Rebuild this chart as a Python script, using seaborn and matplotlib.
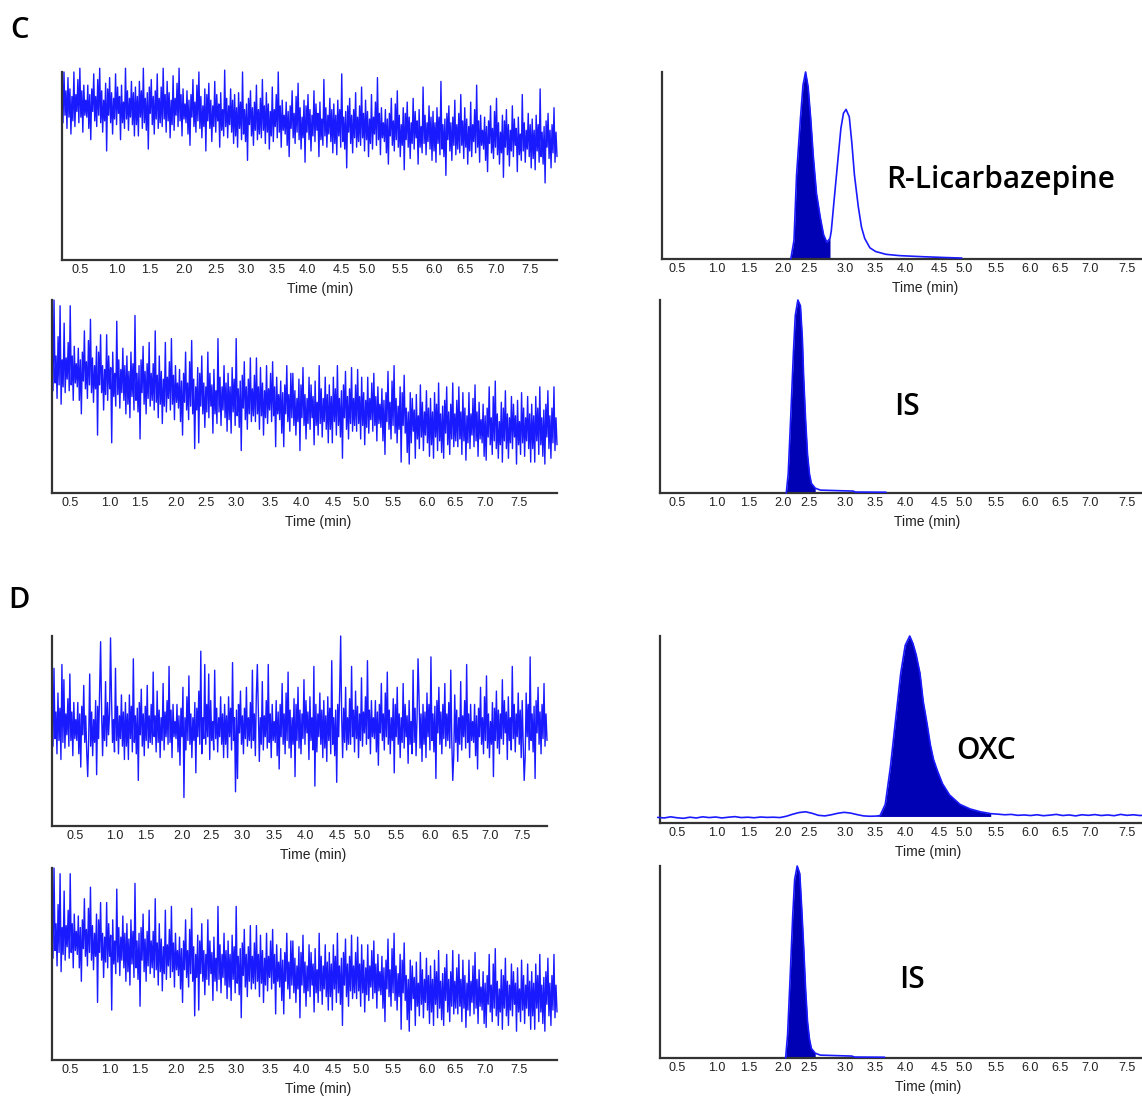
import numpy as np
import pandas as pd
import matplotlib
matplotlib.use("Agg")
import matplotlib.pyplot as plt
import seaborn as sns

sns.set_style("white")
plt.rcParams['font.family'] = ['Liberation Sans', 'DejaVu Sans']

# ---------------- data ----------------
tick_labels = ["0.5", "1.0", "1.5", "2.0", "2.5", "3.0", "3.5", "4.0",
               "4.5", "5.0", "5.5", "6.0", "6.5", "7.0", "7.5"]

# C, blank (top-left): intensity in % of axis height
noise_c_top = [
    94, 73, 100, 77, 90, 70, 97, 76, 91, 67, 87, 74, 100, 71, 88, 79, 96, 73, 102, 76, 90, 68, 93, 77, 85,
    76, 93, 70, 88, 64, 91, 79, 99, 74, 87, 71, 96, 77, 102, 73, 90, 68, 85, 74, 94, 58, 91, 77, 97, 73,
    89, 67, 86, 75, 99, 72, 92, 78, 87, 64, 93, 73, 84, 70, 102, 75, 90, 69, 86, 76, 95, 72, 89, 66, 92,
    72, 87, 66, 95, 76, 90, 70, 102, 73, 86, 69, 89, 59, 92, 78, 96, 72, 87, 67, 90, 75, 99, 70, 86, 73,
    92, 71, 102, 75, 88, 68, 95, 74, 89, 65, 85, 72, 98, 69, 86, 77, 94, 71, 102, 74, 88, 66, 91, 75, 83,
    73, 90, 67, 85, 61, 88, 76, 96, 71, 84, 68, 93, 74, 100, 70, 87, 65, 82, 71, 91, 58, 88, 74, 94, 70,
    85, 63, 82, 71, 95, 68, 88, 74, 83, 60, 89, 69, 80, 66, 101, 71, 86, 65, 82, 72, 91, 68, 85, 62, 88,
    66, 81, 60, 89, 70, 84, 64, 100, 67, 80, 63, 83, 53, 86, 72, 90, 66, 81, 61, 84, 69, 93, 64, 80, 67,
    86, 65, 96, 69, 82, 62, 89, 68, 83, 59, 79, 66, 92, 63, 80, 71, 88, 65, 100, 68, 82, 60, 85, 69, 77,
    67, 84, 61, 79, 55, 82, 70, 90, 65, 78, 62, 87, 68, 94, 64, 81, 59, 76, 65, 85, 52, 82, 68, 88, 64,
    80, 58, 77, 66, 90, 63, 83, 69, 78, 55, 84, 64, 75, 61, 96, 66, 81, 60, 77, 67, 86, 63, 80, 57, 83,
    62, 77, 56, 85, 66, 80, 60, 99, 63, 76, 59, 79, 49, 82, 68, 86, 62, 77, 57, 80, 65, 89, 60, 76, 63,
    82, 61, 92, 65, 78, 58, 85, 64, 79, 55, 75, 62, 88, 59, 76, 67, 84, 61, 97, 64, 78, 56, 81, 65, 73,
    63, 80, 57, 75, 51, 78, 66, 86, 61, 74, 58, 83, 64, 90, 60, 77, 55, 72, 61, 81, 48, 78, 64, 84, 60,
    76, 54, 73, 62, 86, 59, 79, 65, 74, 51, 80, 60, 71, 57, 92, 62, 77, 56, 73, 63, 82, 59, 76, 53, 79,
    58, 73, 52, 81, 62, 76, 56, 95, 59, 72, 55, 75, 45, 78, 64, 82, 58, 73, 53, 76, 61, 85, 56, 72, 59,
    78, 57, 88, 61, 74, 54, 81, 60, 75, 51, 71, 58, 84, 55, 72, 63, 80, 57, 93, 60, 74, 52, 77, 61, 69,
    59, 76, 53, 71, 47, 74, 62, 82, 57, 70, 54, 79, 60, 86, 56, 73, 51, 68, 57, 77, 44, 74, 60, 80, 56,
    72, 50, 69, 58, 82, 55, 75, 61, 70, 47, 76, 56, 67, 53, 88, 58, 73, 52, 69, 59, 78, 55, 72, 49, 75,
    54, 69, 48, 77, 58, 72, 52, 91, 55, 68, 51, 71, 41, 74, 60, 78, 54, 69, 49, 72, 57, 81, 52, 68, 55]

# C and D, IS channel of blank (bottom-left panels)
noise_is_blank = [
    77, 53, 100, 57, 71, 49, 81, 56, 97, 46, 69, 55, 88, 52, 70, 59, 78, 53, 97, 56, 71, 48, 76, 57, 67,
    55, 75, 48, 69, 41, 73, 58, 84, 54, 68, 49, 79, 56, 90, 52, 70, 47, 66, 54, 76, 30, 73, 56, 82, 52,
    66, 43, 64, 51, 82, 48, 71, 54, 65, 26, 73, 50, 62, 45, 89, 51, 69, 44, 64, 52, 75, 48, 66, 41, 71,
    46, 63, 39, 73, 50, 67, 43, 92, 48, 62, 42, 66, 28, 69, 52, 76, 46, 63, 41, 67, 49, 78, 45, 62, 48,
    67, 43, 84, 47, 61, 39, 71, 46, 63, 36, 59, 45, 78, 42, 60, 49, 68, 43, 80, 46, 61, 38, 66, 47, 57,
    44, 64, 37, 58, 30, 62, 47, 73, 43, 57, 38, 68, 45, 79, 41, 59, 23, 55, 43, 65, 26, 62, 45, 71, 41,
    57, 34, 55, 42, 73, 39, 62, 45, 56, 31, 64, 41, 53, 36, 80, 42, 60, 35, 55, 43, 66, 39, 57, 32, 62,
    38, 55, 31, 65, 42, 59, 35, 80, 40, 54, 34, 58, 22, 61, 44, 68, 38, 55, 33, 59, 41, 70, 37, 54, 40,
    61, 37, 70, 41, 55, 33, 65, 40, 57, 30, 53, 39, 66, 36, 54, 43, 62, 37, 68, 40, 55, 24, 60, 41, 51,
    38, 58, 31, 52, 24, 56, 41, 66, 37, 51, 32, 62, 39, 62, 35, 53, 30, 49, 37, 59, 22, 56, 39, 65, 35,
    51, 28, 49, 36, 60, 33, 56, 39, 50, 25, 58, 35, 47, 30, 66, 36, 54, 29, 49, 37, 60, 33, 51, 26, 56,
    33, 50, 26, 60, 37, 54, 30, 66, 35, 49, 29, 53, 18, 56, 39, 63, 33, 50, 28, 54, 36, 65, 32, 49, 35,
    56, 32, 64, 36, 50, 28, 60, 35, 52, 25, 48, 34, 60, 31, 49, 38, 57, 32, 62, 35, 50, 27, 55, 36, 46,
    34, 54, 27, 48, 20, 52, 37, 63, 33, 47, 28, 58, 35, 66, 31, 49, 26, 45, 33, 55, 16, 52, 35, 61, 31,
    44, 21, 42, 15, 52, 26, 49, 32, 43, 18, 51, 28, 40, 23, 56, 29, 47, 22, 42, 30, 53, 26, 44, 19, 49,
    25, 42, 18, 52, 29, 46, 22, 57, 27, 41, 21, 45, 18, 48, 31, 55, 25, 42, 20, 46, 28, 57, 24, 41, 27,
    48, 24, 55, 28, 42, 20, 52, 27, 44, 17, 40, 26, 52, 23, 41, 30, 49, 24, 56, 27, 42, 19, 47, 28, 38,
    26, 46, 19, 40, 17, 44, 29, 55, 25, 39, 20, 50, 27, 58, 23, 41, 18, 37, 25, 47, 16, 44, 27, 53, 23,
    41, 18, 39, 26, 50, 23, 46, 29, 40, 15, 48, 25, 37, 20, 52, 26, 44, 19, 39, 27, 50, 23, 41, 16, 46,
    23, 40, 16, 50, 27, 44, 20, 55, 25, 39, 19, 43, 15, 46, 29, 53, 23, 40, 18, 44, 26, 55, 22, 39, 25]

# D, blank (top-left)
noise_d_top = [
    66, 42, 83, 46, 60, 38, 70, 45, 62, 35, 85, 44, 77, 41, 59, 48, 67, 42, 80, 45, 60, 37, 65, 46, 56,
    45, 65, 38, 59, 31, 63, 48, 74, 44, 58, 39, 26, 46, 80, 42, 60, 37, 56, 44, 66, 27, 63, 46, 72, 97,
    60, 37, 58, 45, 76, 42, 65, 48, 59, 99, 67, 44, 56, 39, 83, 45, 63, 38, 58, 46, 69, 42, 60, 35, 65,
    42, 59, 35, 69, 46, 63, 39, 88, 44, 58, 38, 62, 24, 65, 48, 72, 42, 59, 37, 63, 45, 74, 41, 58, 44,
    64, 43, 81, 47, 58, 39, 71, 44, 61, 36, 57, 45, 75, 40, 60, 47, 66, 43, 84, 44, 61, 36, 64, 47, 55,
    46, 64, 39, 58, 32, 62, 47, 73, 15, 57, 40, 68, 45, 79, 43, 59, 36, 57, 45, 65, 28, 62, 47, 71, 43,
    92, 38, 57, 46, 85, 43, 64, 47, 80, 35, 66, 45, 55, 40, 82, 46, 62, 39, 57, 47, 68, 43, 59, 36, 64,
    43, 58, 36, 68, 47, 62, 40, 86, 45, 57, 18, 61, 25, 64, 49, 71, 43, 58, 38, 62, 46, 73, 42, 57, 45,
    65, 41, 82, 45, 59, 37, 69, 85, 61, 34, 57, 43, 76, 40, 58, 47, 66, 41, 85, 44, 59, 36, 64, 45, 55,
    44, 66, 37, 60, 30, 64, 47, 75, 43, 59, 38, 70, 45, 81, 41, 61, 36, 57, 43, 67, 26, 64, 45, 73, 41,
    61, 38, 59, 46, 77, 43, 66, 49, 60, 35, 68, 45, 57, 40, 84, 21, 64, 39, 59, 47, 70, 43, 61, 36, 66,
    41, 58, 34, 68, 45, 62, 38, 87, 43, 57, 37, 61, 23, 64, 47, 71, 100, 58, 36, 62, 44, 73, 40, 57, 43,
    67, 43, 84, 47, 61, 39, 71, 46, 63, 36, 59, 45, 78, 42, 60, 49, 68, 43, 87, 46, 61, 38, 66, 47, 57,
    46, 66, 39, 60, 32, 64, 49, 75, 45, 59, 40, 70, 47, 81, 43, 61, 38, 57, 45, 67, 28, 64, 47, 73, 43,
    59, 36, 57, 44, 75, 41, 64, 47, 58, 33, 66, 43, 55, 38, 82, 44, 62, 37, 57, 88, 68, 41, 59, 34, 64,
    43, 60, 36, 70, 47, 64, 40, 89, 45, 59, 39, 63, 25, 66, 49, 73, 43, 60, 38, 64, 46, 75, 42, 59, 45,
    65, 41, 82, 45, 24, 37, 69, 44, 61, 34, 57, 43, 76, 40, 58, 47, 66, 41, 85, 44, 59, 36, 64, 45, 55,
    44, 64, 37, 58, 30, 62, 47, 73, 43, 57, 38, 68, 45, 79, 41, 59, 36, 55, 43, 65, 26, 62, 45, 71, 41,
    61, 38, 59, 46, 77, 43, 66, 49, 60, 35, 68, 45, 57, 40, 84, 46, 64, 39, 59, 47, 70, 43, 61, 36, 66,
    43, 24, 36, 70, 47, 64, 40, 89, 45, 59, 39, 63, 25, 66, 49, 73, 43, 60, 38, 64, 46, 75, 42, 59, 45]

# C, R-Licarbazepine channel (relative intensity)
rlic_time = [2.27, 2.32, 2.36, 2.42, 2.46, 2.50, 2.54, 2.58, 2.62, 2.67, 2.73,
             2.78, 2.83, 2.88, 2.90, 2.94, 3.00, 3.05, 3.09, 3.13, 3.18, 3.22,
             3.26, 3.32, 3.37, 3.42, 3.50, 3.59, 3.75, 3.96, 4.34, 4.66, 4.93]
rlic_int = [0.0, 0.10, 0.45, 0.75, 0.93, 1.0, 0.92, 0.75, 0.55, 0.35, 0.22,
            0.13, 0.09, 0.11, 0.15, 0.30, 0.52, 0.70, 0.78, 0.80, 0.76, 0.62,
            0.45, 0.28, 0.17, 0.11, 0.06, 0.04, 0.025, 0.018, 0.012, 0.008, 0.005]
rlic_fill_end = 2.88

# C, IS channel
is_c_time = [2.20, 2.23, 2.27, 2.31, 2.34, 2.38, 2.42, 2.45, 2.47, 2.50, 2.53,
             2.56, 2.59, 2.65, 2.73, 3.02, 3.24, 3.27, 3.75]
is_c_int = [0.0, 0.10, 0.40, 0.72, 0.92, 1.0, 0.97, 0.80, 0.60, 0.38, 0.20,
            0.10, 0.05, 0.025, 0.015, 0.012, 0.010, 0.005, 0.004]
is_fill_end = 2.65

# D, OXC channel
oxc_time = [0.2, 0.3, 0.4, 0.5, 0.6, 0.7, 0.8, 0.9, 1.0, 1.1, 1.2, 1.3, 1.4,
            1.5, 1.6, 1.7, 1.8, 1.9, 2.0, 2.1, 2.2, 2.3, 2.4, 2.5, 2.6, 2.7,
            2.8, 2.9, 3.0, 3.1, 3.2, 3.3, 3.4, 3.5, 3.6,
            3.66, 3.74, 3.82, 3.90, 3.98, 4.05, 4.12, 4.17, 4.22, 4.28, 4.33,
            4.39, 4.44, 4.49, 4.55, 4.63, 4.74, 4.90, 5.06, 5.22, 5.38,
            5.5, 5.6, 5.7, 5.8, 5.9, 6.0, 6.1, 6.2, 6.3, 6.4, 6.5, 6.6, 6.7,
            6.8, 6.9, 7.0, 7.1, 7.2, 7.3, 7.4, 7.5, 7.6, 7.7, 7.8, 7.9]
oxc_int = [0.030, 0.027, 0.033, 0.028, 0.025, 0.031, 0.027, 0.033, 0.029,
           0.032, 0.027, 0.031, 0.034, 0.029, 0.031, 0.028, 0.032, 0.030,
           0.031, 0.029, 0.036, 0.047, 0.056, 0.060, 0.052, 0.041, 0.038,
           0.044, 0.052, 0.057, 0.053, 0.045, 0.038, 0.036, 0.037,
           0.04, 0.10, 0.30, 0.55, 0.80, 0.95, 1.0, 0.96, 0.90, 0.80, 0.65,
           0.53, 0.42, 0.34, 0.28, 0.21, 0.15, 0.10, 0.075, 0.06, 0.05,
           0.047, 0.044, 0.046, 0.041, 0.043, 0.040, 0.044, 0.039, 0.042,
           0.046, 0.040, 0.043, 0.038, 0.044, 0.041, 0.045, 0.040, 0.043,
           0.039, 0.046, 0.041, 0.044, 0.040, 0.043, 0.041]
oxc_fill_start, oxc_fill_end, oxc_fill_base = 3.60, 5.38, 0.035

# D, IS channel
is_d_time = [2.19, 2.22, 2.26, 2.30, 2.33, 2.37, 2.41, 2.44, 2.47, 2.50, 2.53,
             2.56, 2.59, 2.65, 2.73, 3.02, 3.22, 3.26, 3.73]
is_d_int = [0.0, 0.12, 0.42, 0.74, 0.93, 1.0, 0.96, 0.78, 0.58, 0.36, 0.19,
            0.10, 0.05, 0.025, 0.015, 0.012, 0.010, 0.005, 0.004]

# ---------------- layout ----------------
W, H = 1142, 1104
fig = plt.figure(figsize=(W / 100, H / 100), dpi=100)

LINE = "#1a1aff"
FILL = "#0000b4"
SPINE = "#333333"
TXT = "#222222"


def make_axes(left, right, top, bottom, label_px, xlabel_px, ylab_dist, ylim):
    ax = fig.add_axes([left / W, 1 - bottom / H, (right - left) / W, (bottom - top) / H])
    p05, p75 = label_px[0], label_px[-1]
    to_t = lambda p: 0.5 + (p - p05) / (p75 - p05) * 7.0
    t0, t1 = to_t(left), to_t(right)
    ax.set_xlim(t0, t1)
    ax.set_ylim(*ylim)
    ax.set_xticks([to_t(p) for p in label_px])
    ax.set_xticklabels(tick_labels)
    ax.set_yticks([])
    ax.tick_params(axis="x", length=0, pad=3, labelsize=9, labelcolor=TXT)
    for s in ["top", "right"]:
        ax.spines[s].set_visible(False)
    for s in ["left", "bottom"]:
        ax.spines[s].set_color(SPINE)
        ax.spines[s].set_linewidth(1.6)
    ax.grid(False)
    geom = dict(left=left, right=right, xlabel_px=xlabel_px, ylab_dist=ylab_dist)
    return ax, t0, t1, geom


def finish_labels(ax, geom):
    w = geom["right"] - geom["left"]
    ax.set_xlabel("Time (min)", fontsize=10, color=TXT)
    ax.set_ylabel("intensity", fontsize=9.5, color=TXT)
    ax.xaxis.set_label_coords((geom["xlabel_px"] - geom["left"]) / w, -0.115)
    ax.yaxis.set_label_coords(-(geom["ylab_dist"] - 5) / w, 0.5)


def noise_panel(ax, t0, t1, values, geom):
    t = np.linspace(t0, t1, len(values))
    df = pd.DataFrame({"time": t, "intensity": values})
    sns.lineplot(data=df, x="time", y="intensity", ax=ax, color=LINE,
                 lw=1.0, estimator=None, sort=False, clip_on=False)
    finish_labels(ax, geom)


def peak_panel(ax, times, ints, fill_from, fill_to, geom, base=0.0):
    df = pd.DataFrame({"time": times, "intensity": ints})
    sel = df[(df.time >= fill_from) & (df.time <= fill_to)]
    ax.fill_between(sel.time, base, sel.intensity, color=FILL, lw=0, zorder=2)
    sns.lineplot(data=df, x="time", y="intensity", ax=ax, color=LINE,
                 lw=1.2, estimator=None, sort=False, clip_on=False, zorder=3)
    finish_labels(ax, geom)


left_lbl_a = [80, 117, 150, 184, 216, 246, 277, 307, 341, 367, 400, 434, 465, 496, 530]
left_lbl_b = [70, 110, 140, 176, 206, 236, 270, 301, 333, 361, 393, 427, 455, 485, 519]
left_lbl_c = [75, 115, 146, 182, 211, 242, 274, 305, 337, 362, 396, 430, 460, 490, 522]
right_lbl = [677, 717, 749, 783, 809, 845, 875, 905, 939, 964, 996, 1030, 1060, 1090, 1127]

# C panels
ax, t0, t1, g = make_axes(62, 557, 72, 260, left_lbl_a, 320, 19, (0, 100))
noise_panel(ax, t0, t1, noise_c_top, g)

ax, t0, t1, g = make_axes(52, 557, 300, 493, left_lbl_b, 318, 24, (0, 100))
noise_panel(ax, t0, t1, noise_is_blank, g)

ax, t0, t1, g = make_axes(662, 1152, 72, 259, right_lbl, 925, 25, (0, 1.0))
peak_panel(ax, rlic_time, rlic_int, 0, rlic_fill_end, g)

ax, t0, t1, g = make_axes(660, 1152, 300, 493, right_lbl, 927, 23, (0, 1.0))
peak_panel(ax, is_c_time, is_c_int, 0, is_fill_end, g)

# D panels
ax, t0, t1, g = make_axes(52, 547, 636, 826, left_lbl_c, 313, 19, (0, 100))
noise_panel(ax, t0, t1, noise_d_top, g)

ax, t0, t1, g = make_axes(52, 557, 868, 1060, left_lbl_b, 318, 19, (0, 100))
noise_panel(ax, t0, t1, noise_is_blank, g)

ax, t0, t1, g = make_axes(660, 1152, 636, 823, right_lbl, 928, 17, (0, 1.0))
peak_panel(ax, oxc_time, oxc_int, oxc_fill_start, oxc_fill_end, g, base=oxc_fill_base)

ax, t0, t1, g = make_axes(660, 1152, 866, 1058, right_lbl, 928, 17, (0, 1.0))
peak_panel(ax, is_d_time, is_d_int, 0, is_fill_end, g)

# annotations
ann_font = ["Open Sans", "DejaVu Sans"]


def ftext(x, y, s, size):
    fig.text(x / W, 1 - y / H, s, fontsize=size, ha="center", va="center",
             family=ann_font, color="black", weight="semibold")


ftext(20, 30, "C", 21)
ftext(19, 600, "D", 21)
ftext(1001, 180, "R-Licarbazepine", 21.5)
ftext(907, 407, "IS", 21.5)
ftext(986, 751, "OXC", 21.5)
ftext(912, 980, "IS", 21.5)

fig.savefig("out.png", dpi=100, facecolor="white")
